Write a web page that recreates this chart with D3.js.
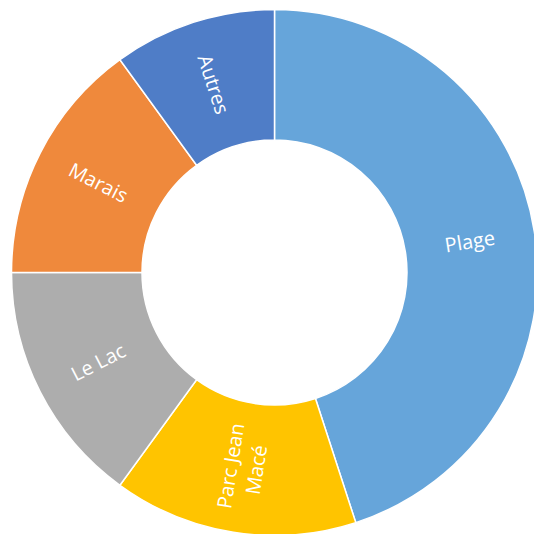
<!DOCTYPE html>
<html lang="fr">
<head>
    <meta charset="UTF-8">
    <title>Donut</title>
    <style>
        body { margin: 0; background: #fff; }
        svg { display: block; }
    </style>
</head>
<body>
<svg height="534" width="534"></svg>

<script src="https://d3js.org/d3.v7.min.js"></script>
<script>

    var categories = ["Plage", "Parc Jean Macé", "Le Lac", "Marais", "Autres"];
    var values = [45, 15, 15, 15, 10];
    // label text as wrapped in the original
    var labelLines = [["Plage"], ["Parc Jean", "Macé"], ["Le Lac"], ["Marais"], ["Autres"]];
    var colors = ["#66A5DA", "#FFC400", "#ADADAD", "#EF893C", "#4F7DC7"];

    var data = categories.map(function(c, i) {
        return {name: c, value: values[i], lines: labelLines[i]};
    });

    var svg = d3.select("svg");
    var cx = 274.5, cy = 272.5;
    var outerR = 263, innerR = 132.5;

    var g = svg.append("g").attr("transform", "translate(" + cx + "," + cy + ")");

    var pie = d3.pie().sort(null).value(function(d) { return d.value; });
    var arc = d3.arc().innerRadius(innerR).outerRadius(outerR);

    var color = d3.scaleOrdinal().domain(categories).range(colors);

    var arcs = pie(data);

    g.selectAll("path.slice")
        .data(arcs)
        .enter()
        .append("path")
        .attr("class", "slice")
        .attr("d", arc)
        .attr("fill", function(d) { return color(d.data.name); })
        .attr("stroke", "#fff")
        .attr("stroke-width", 1.5);

    // labels rotated along the radius, flipped to stay readable
    var labels = g.selectAll("text.lbl")
        .data(arcs)
        .enter()
        .append("text")
        .attr("class", "lbl")
        .attr("transform", function(d) {
            var c = arc.centroid(d);
            var mid = (d.startAngle + d.endAngle) / 2 * 180 / Math.PI;
            var rot = mid - 90;
            if (rot > 90) rot -= 180;
            return "translate(" + c[0] + "," + c[1] + ") rotate(" + rot + ")";
        })
        .attr("text-anchor", "middle")
        .attr("fill", "#fff")
        .style("font-family", "'Open Sans', sans-serif")
        .style("font-size", "20px");

    labels.each(function(d) {
        var t = d3.select(this);
        var n = d.data.lines.length;
        var lh = 1.3;
        d.data.lines.forEach(function(line, i) {
            t.append("tspan")
                .attr("x", 0)
                .attr("dy", i === 0 ? (0.35 - (n - 1) * lh / 2) + "em" : lh + "em")
                .text(line);
        });
    });

</script>
</body>
</html>
